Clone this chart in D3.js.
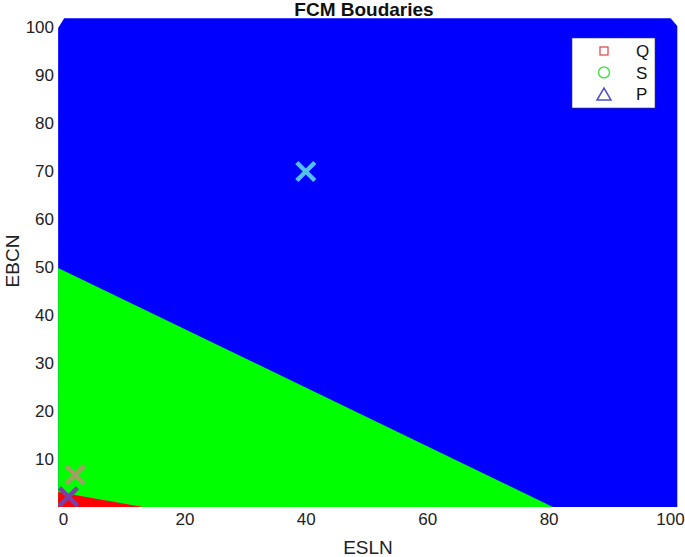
<!DOCTYPE html>
<meta charset="utf-8">
<head>
<script src="https://cdn.jsdelivr.net/npm/d3@7"></script>
<style>
  body { margin: 0; background: #fff; }
  text { font-family: Arial, "Liberation Sans", sans-serif; }
</style>
</head>
<body>
<svg id="chart" width="685" height="557"></svg>
<script>
// tick values
var xTicks = [0, 20, 40, 60, 80, 100];
var yTicks = [0, 10, 20, 30, 40, 50, 60, 70, 80, 90, 100];

// classified region outline (data units), drawn back to front
var regionNames = ["P", "S", "Q"];
var regionColors = ["#0000ff", "#00ff00", "#ff0000"];
var regionP = [[-0.8, 0], [-0.8, 99.8], [0.2, 101.8], [100.1, 101.8], [101.2, 100.2], [101.2, 0]];
var regionS = [[-0.8, 0], [-0.8, 49.8], [80.7, 0]];
var regionQ = [[-0.8, 0], [-0.8, 3.1], [13.2, 0]];

// cluster centres
var centerX = [40, 2.0, 0.9];
var centerY = [69.9, 6.7, 2.1];
var centerColors = ["#55c0ee", "#a0a060", "#7a40a8"];

// legend
var legendLabels = ["Q", "S", "P"];
var legendColors = ["#e04040", "#50e050", "#5050c8"];

var svg = d3.select("#chart");

var x = d3.scaleLinear().domain([0, 100]).range([63, 670]);
var y = d3.scaleLinear().domain([0, 100]).range([507, 27]);

var line = d3.line()
  .x(function(d) { return x(d[0]); })
  .y(function(d) { return y(d[1]); });

// regions
svg.append("g")
  .selectAll("path")
  .data([regionP, regionS, regionQ])
  .enter().append("path")
  .attr("d", function(d) { return line(d) + "Z"; })
  .attr("fill", function(d, i) { return regionColors[i]; });

// centre markers
var xg = svg.append("g");
centerX.forEach(function(cx, i) {
  var px = x(cx), py = y(centerY[i]), r = 9;
  xg.append("path")
    .attr("d", "M" + (px - r) + "," + (py - r) + "L" + (px + r) + "," + (py + r) +
               "M" + (px - r) + "," + (py + r) + "L" + (px + r) + "," + (py - r))
    .attr("stroke", centerColors[i])
    .attr("stroke-width", 4.5)
    .attr("fill", "none");
});

// axes, labels only
var gx = svg.append("g")
  .attr("transform", "translate(0,510)")
  .call(d3.axisBottom(x).tickValues(xTicks).tickSize(0).tickPadding(3));
var gy = svg.append("g")
  .attr("transform", "translate(57,0)")
  .call(d3.axisLeft(y).tickValues(yTicks.slice(1)).tickSize(0).tickPadding(3));
[gx, gy].forEach(function(g) {
  g.select(".domain").remove();
  g.selectAll("text")
    .attr("font-family", "Arial, 'Liberation Sans', sans-serif")
    .attr("font-size", 17)
    .attr("fill", "#222");
});

// titles
svg.append("text")
  .attr("x", 364).attr("y", 16)
  .attr("text-anchor", "middle")
  .attr("font-size", 19).attr("font-weight", "bold")
  .attr("fill", "#111")
  .text("FCM Boudaries");
svg.append("text")
  .attr("x", 368).attr("y", 554)
  .attr("text-anchor", "middle")
  .attr("font-size", 19).attr("fill", "#222")
  .text("ESLN");
svg.append("text")
  .attr("transform", "translate(19,261) rotate(-90)")
  .attr("text-anchor", "middle")
  .attr("font-size", 19).attr("fill", "#222")
  .text("EBCN");

// legend
var lg = svg.append("g");
lg.append("rect")
  .attr("x", 572).attr("y", 38).attr("width", 83).attr("height", 70)
  .attr("fill", "#fff").attr("stroke", "#444").attr("stroke-width", 0.6);
legendLabels.forEach(function(lab, i) {
  var cy = 51 + i * 21.5, cx = 604;
  if (i == 0) {
    lg.append("rect").attr("x", cx - 4).attr("y", cy - 4).attr("width", 8).attr("height", 8)
      .attr("fill", "none").attr("stroke", legendColors[i]).attr("stroke-width", 1.2);
  } else if (i == 1) {
    lg.append("circle").attr("cx", cx).attr("cy", cy).attr("r", 5.5)
      .attr("fill", "none").attr("stroke", legendColors[i]).attr("stroke-width", 1.5);
  } else {
    lg.append("path")
      .attr("d", "M" + (cx - 7) + "," + (cy + 6) + "L" + cx + "," + (cy - 6) + "L" + (cx + 7) + "," + (cy + 6) + "Z")
      .attr("fill", "none").attr("stroke", legendColors[i]).attr("stroke-width", 1.5);
  }
  lg.append("text")
    .attr("x", 636).attr("y", cy + 6)
    .attr("font-size", 17).attr("fill", "#111")
    .text(lab);
});
</script>
</body>
